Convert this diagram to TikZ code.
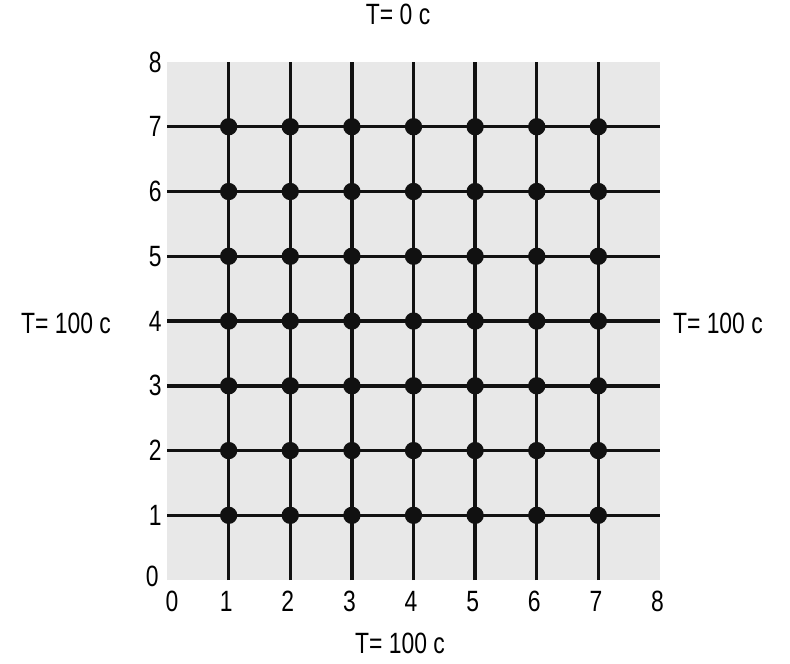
\documentclass[tikz,border=0pt]{standalone}
\usepackage{fontspec}
\setmainfont{Liberation Sans}[FakeStretch=0.78]
\usepackage{tikz}
\usetikzlibrary{positioning}
\definecolor{gridgray}{HTML}{E8E8E8}
\definecolor{griddark}{HTML}{111111}
\tikzset{
  gridline/.style={draw=griddark,line width=2.6pt},
  node dot/.style={circle,fill=griddark,inner sep=0pt,minimum size=13pt},
  tick/.style={font=\fontsize{22}{24}\selectfont,inner sep=1pt},
  temp/.style={font=\fontsize{22}{24}\selectfont,inner sep=1pt},
}
\begin{document}
\begin{tikzpicture}[x=46.2pt,y=48.56pt]
  \useasboundingbox (-2.711,-1.282) rectangle (10.11,8.957);
  \fill[gridgray] (0,0) rectangle (8,8);
  % grid lines
  \foreach \i in {1,...,7} {
    \coordinate (b\i) at (\i,0); \coordinate (t\i) at (\i,8);
    \coordinate (l\i) at (0,\i); \coordinate (r\i) at (8,\i);
    \draw[gridline] (b\i) -- (t\i);
    \draw[gridline] (l\i) -- (r\i);
  }
  % nodes of the mesh
  \foreach \i in {1,...,7}
    \foreach \j in {1,...,7}
      \node[node dot] (p\i\j) at (\i,\j) {};
  % axis numbers
  \foreach \i in {1,...,8} {
    \node[tick] (xl\i) at (\i-0.04,-0.33) {\i};
    \node[tick] (yl\i) at (-0.19,\i) {\i};
  }
  \node[tick] (xl0) at (0.08,-0.33) {0};
  \node[tick] (yl0) at (-0.24,0.05) {0};
  % boundary temperatures
  \node[temp] (ttop) at (3.75,8.73) {T= 0 c};
  \node[temp] (tleft) at (-1.64,3.97) {T= 100 c};
  \node[temp] (tright) at (8.94,3.97) {T= 100 c};
  \node[temp] (tbot) at (3.78,-0.97) {T= 100 c};
\end{tikzpicture}
\end{document}
